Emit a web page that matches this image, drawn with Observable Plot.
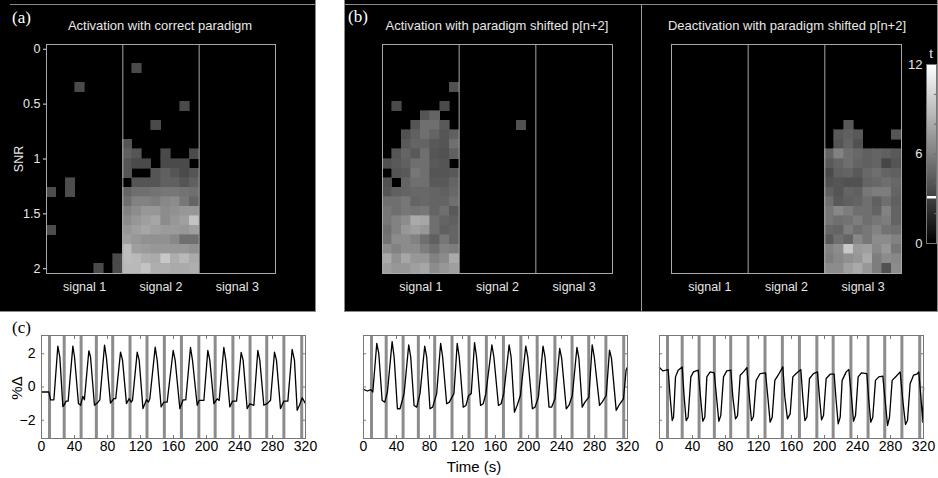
<!DOCTYPE html>
<html><head><meta charset="utf-8">
<script src="https://cdn.jsdelivr.net/npm/d3@7"></script>
<script src="https://cdn.jsdelivr.net/npm/@observablehq/plot@0.6"></script>
<style>
body{margin:0;background:#fff;}
#fig{position:relative;width:938px;height:478px;overflow:hidden;font-family:"Liberation Sans",Arial,sans-serif;background:#fff;}
.panel{position:absolute;background:#000;box-sizing:border-box;border-right:1px solid #8a8a8a;border-bottom:1px solid #8a8a8a;}
.hline{position:absolute;height:1px;background:#8a8a8a;}
.vline{position:absolute;width:1px;background:#9a9a9a;}
.lbl{position:absolute;font-family:"Liberation Serif","Times New Roman",serif;font-size:17px;line-height:1;}
.title{position:absolute;color:#e8e8e8;font-size:13px;white-space:nowrap;transform:translate(-50%,-50%);line-height:1;}
.txt{position:absolute;white-space:nowrap;line-height:1;}
.plot{position:absolute;}
.plot svg{display:block;}
</style></head><body><div id="fig"></div>
<script>
// ---------- DATA ----------
const signalLabels = ["signal 1", "signal 2", "signal 3"];
const snrTicks = [0, 0.5, 1, 1.5, 2];
const snrMax = 2;
const snrRowCount = 24;
const colsPerSignal = 8;
const tThreshold = 3.1;
const tMax = 12;
const tTicks = [0, 6, 12];

// (a) activation, correct paradigm, signal 1: sparse cells [column, row, t]
const aSignal1Cells = [[3,4,3.5],[2,14,3.6],[0,15,3.6],[2,15,3.6],[0,19,3.6],[7,22,3.5],[5,23,3.5],[7,23,3.5]];
// (a) signal 2: t per row (rows = SNR from 0 to 2), 8 columns
const aSignal2Grid = [
 [0,0,0,0,0,0,0,0],[0,0,0,0,0,0,0,0],[0,3.5,0,0,0,0,0,0],[0,0,0,0,0,0,0,0],
 [0,0,0,0,0,0,0,0],[0,0,0,0,0,0,0,0],[0,0,0,0,0,0,3.5,0],[0,0,0,0,0,0,0,0],
 [0,0,0,3.5,0,0,0,0],[0,0,0,0,0,0,0,0],[4.0,0,0,0,0,0,0,0],[4.5,4.0,0,0,3.5,0,0,3.5],
 [4.0,3.5,3.5,0,3.5,3.5,3.5,0],[4.0,0,0,4.0,4.5,4.0,3.5,4.0],[0,4.0,4.0,4.0,4.5,4.5,4.0,4.5],
 [4.7,5.2,5.2,5.4,5.6,5.6,5.4,5.2],[5.2,6.1,6.1,5.9,6.4,6.6,5.6,4.7],[6.1,6.6,7.1,7.1,6.6,6.8,7.1,7.1],
 [6.6,7.1,7.5,7.8,6.6,7.1,7.5,9.2],[7.1,7.5,7.8,7.5,7.3,7.3,7.1,7.5],[7.5,7.1,6.8,6.8,6.8,6.4,5.2,5.2],
 [8.9,7.5,7.3,7.1,7.1,7.1,7.1,6.8],[8.9,8.7,8.2,8.0,9.4,8.2,8.7,8.0],[8.7,8.7,9.2,8.2,8.2,8.0,8.0,8.2]
];
// (b) activation, shifted paradigm, signal 1
const bActSignal1Grid = [
 [0,0,0,0,0,0,0,0],[0,0,0,0,0,0,0,0],[0,0,0,0,0,0,0,0],[0,0,0,0,0,0,0,0],
 [0,0,0,0,0,0,0,3.8],[0,0,0,0,0,0,0,0],[0,3.5,0,0,0,0,3.5,0],[0,0,0,0,4.0,4.7,0,0],
 [0,0,0,4.0,5.2,5.2,4.2,0],[0,0,3.8,4.5,5.2,4.7,4.0,4.5],[0,0,4.2,4.7,4.7,4.2,4.0,5.2],
 [0,4.0,4.7,4.2,5.2,4.0,3.8,4.5],[3.8,4.2,4.5,5.2,5.2,4.2,4.0,0],[0,4.0,4.2,5.6,5.2,4.0,4.0,4.2],
 [3.8,0,4.7,5.2,5.2,4.2,4.2,4.7],[4.0,4.5,4.7,4.9,4.9,4.7,4.5,4.9],[5.2,5.2,5.6,4.7,4.9,4.7,4.7,5.2],
 [5.6,5.2,5.6,5.4,5.6,4.7,5.2,4.2],[5.6,6.1,6.6,8.0,7.8,5.2,4.7,4.5],[5.2,6.1,7.1,7.5,7.1,5.2,4.5,4.7],
 [5.4,6.6,6.6,6.1,5.2,4.5,5.6,4.7],[6.6,6.1,6.6,6.6,5.9,5.2,6.1,5.9],[8.0,6.8,7.8,7.1,7.1,6.1,6.6,8.0],
 [7.5,7.1,7.1,7.5,7.8,6.6,7.1,7.5]
];
// (b) activation, shifted paradigm, signal 2: sparse cells [column, row, t]
const bActSignal2Cells = [[6,8,3.8]];
// (b) deactivation, shifted paradigm, signal 3
const bDeactSignal3Grid = [
 [0,0,0,0,0,0,0,0],[0,0,0,0,0,0,0,0],[0,0,0,0,0,0,0,0],[0,0,0,0,0,0,0,0],
 [0,0,0,0,0,0,0,0],[0,0,0,0,0,0,0,0],[0,0,0,0,0,0,0,0],[0,0,0,0,0,0,0,0],
 [0,0,4.2,0,0,0,0,0],[0,4.2,4.5,4.2,0,0,0,4.0],[0,4.0,4.7,3.8,0,0,0,0],
 [4.7,6.1,5.2,4.9,4.5,4.7,4.5,4.2],[4.2,4.7,5.2,4.7,4.5,4.7,3.3,4.0],[3.5,4.5,4.7,4.2,4.9,5.2,4.7,4.5],
 [3.8,4.0,3.8,3.8,4.7,4.9,5.2,4.9],[4.5,4.0,4.7,4.5,5.6,5.9,5.9,4.7],[5.2,4.2,4.5,4.7,5.2,4.5,5.2,4.5],
 [5.6,6.4,5.9,5.2,5.2,4.7,6.1,4.7],[5.6,5.2,5.4,5.9,5.2,5.6,5.9,4.7],[4.9,4.7,5.9,5.2,5.6,6.1,5.4,5.2],
 [4.2,5.2,4.7,6.4,5.6,6.6,6.6,6.1],[6.1,6.6,9.4,7.3,7.5,6.4,7.1,5.6],[5.9,6.4,6.8,7.1,8.0,5.9,6.6,6.4],
 [6.6,6.6,7.5,8.0,7.1,5.9,3.8,6.6]
];

// (c) time courses: paradigm onsets (s) and [time (s), % change]
const timeTicks = [0, 40, 80, 120, 160, 200, 240, 280, 320];
const pctTicks = [-2, 0, 2];
const paradigmOnsets = [9.7, 27.5, 48, 66.5, 86.3, 107.3, 127.9, 148.9, 169.6, 190.7, 210.5, 232, 252.8, 273, 293.8, 315.4];
const courseSignal2 = [[0,-0.3],[8.9,-0.3],[11,-0.77],[15,-0.77],[19.8,2.46],[22.2,1.82],[25.9,-1.17],[27.1,-1.11],[30,-0.85],[32.3,-0.85],[38,2.46],[40,1.82],[44.8,-1.0],[47.3,-1.1],[50.1,-0.56],[52,-0.77],[57.4,2.18],[59.4,1.82],[64.2,-1.1],[67.5,-0.97],[70.7,-0.77],[76.4,2.52],[78.8,1.72],[83.6,-0.97],[87.7,-0.7],[90,-0.7],[95.8,2.1],[98.2,1.62],[103,-1.0],[106.3,-0.7],[108.7,-0.91],[110.3,-0.8],[116,2.1],[118.4,1.62],[123,-1.3],[127.3,-0.77],[129.7,-0.91],[131.3,-0.71],[137.8,2.4],[140.2,1.62],[145,-1.2],[148.3,-0.91],[152.3,-0.91],[159.6,2.2],[162,1.62],[167.7,-1.3],[171.7,-0.77],[174.9,-0.77],[180.6,2.38],[183,1.62],[188.7,-1.1],[191.1,-0.81],[196.8,-0.81],[201.6,2.2],[204,1.62],[208.9,-1.0],[212.9,-0.71],[215.4,-0.81],[221,2.38],[223.4,1.62],[228.3,-1.2],[231.5,-0.85],[236.4,-0.85],[242,2.08],[244.4,1.62],[249.3,-1.3],[252.5,-1.01],[257.4,-1.1],[262.2,2.2],[264.6,1.62],[269.5,-1.1],[273.6,-1.0],[277.6,-0.8],[282.4,2.1],[284.8,1.62],[289.7,-1.3],[293.8,-0.85],[298.6,-0.85],[303.8,2.26],[306.6,1.62],[309.9,-1.4],[312.7,-1.1],[316,-0.65],[320,-1.0]];
const courseSignal1 = [[0,-0.14],[4.8,-0.24],[8.9,-0.16],[11.3,-0.3],[16.1,2.63],[18.5,2.02],[22.6,-0.81],[25.8,-0.91],[29,-0.3],[34.7,2.73],[37.1,1.82],[41.1,-1.31],[44.3,-1.31],[49.2,-0.4],[54.8,2.53],[57.2,1.82],[61.3,-1.11],[64.5,-1.21],[68.5,-0.4],[74.2,2.46],[76.6,1.82],[80.6,-1.31],[83.8,-1.21],[88.7,-0.4],[93.5,2.63],[95.9,1.82],[100.8,-1.01],[104,-0.91],[109.6,-0.4],[113.6,2.63],[116,1.82],[120.9,-1.21],[124.2,-1.11],[127.4,-0.51],[130.6,-0.4],[134.6,2.67],[137,1.82],[141.9,-1.11],[145.1,-1.01],[148.3,-0.4],[155.6,2.53],[158,1.82],[163.6,-1.11],[166.8,-1.01],[170,-0.4],[176.5,2.53],[178.9,1.82],[183,-1.52],[186.2,-1.11],[190.2,-0.51],[196.7,2.46],[199.1,1.82],[204.7,-1.31],[207.9,-1.21],[212,-0.61],[217.6,2.46],[220,1.82],[224.9,-1.21],[228.1,-1.21],[232.1,-0.71],[237.8,2.32],[240.2,1.72],[245.8,-1.31],[249,-1.11],[253.1,-0.51],[258.7,2.38],[261.1,1.72],[265.1,-1.21],[268.4,-0.91],[273.2,-0.61],[277.2,2.53],[279.7,1.82],[286.1,-1.11],[289.3,-0.91],[294.2,-0.51],[298.2,2.22],[300.6,1.72],[306.3,-1.41],[309.5,-1.11],[315.1,-0.71],[318.3,1.01],[320,1.21]];
const courseSignal3 = [[0,1.17],[4,0.97],[8.1,1.01],[10.5,1.05],[12.9,-0.61],[15.4,-2.02],[17,-1.82],[19.4,0.61],[22.6,1.01],[27.5,1.21],[29.9,-0.61],[32.3,-2.02],[34.7,-1.82],[38,0.61],[41.2,0.91],[46.9,1.01],[50.1,-0.81],[52.5,-2.06],[54.9,-1.82],[57.4,0.61],[61.4,0.91],[66.3,0.85],[69.5,-0.81],[71.9,-2.06],[74.3,-1.72],[77.6,0.61],[81.6,0.97],[86.5,1.01],[88.9,-0.61],[92.1,-1.92],[94.6,-1.72],[97.8,0.71],[101.8,0.91],[105.9,1.17],[109.1,-0.71],[111.5,-2.02],[113.9,-1.78],[117.2,0.4],[122,0.81],[128.5,0.85],[131.7,-0.81],[134.1,-2.12],[136.6,-1.82],[139.8,0.4],[143.8,0.71],[149.5,1.21],[151.9,-0.61],[155.1,-1.92],[158.4,-1.62],[161.6,0.61],[165.6,0.81],[171.3,1.05],[173.7,-0.61],[176.2,-2.02],[178.6,-1.82],[181.8,0.51],[186.7,0.81],[191.5,0.91],[193.9,-0.61],[196.4,-1.98],[198.8,-1.72],[202,0.51],[206.9,0.77],[211.7,0.77],[214.1,-0.81],[216.6,-2.22],[219,-1.82],[221.4,0.4],[226.3,0.91],[229.5,1.05],[232.7,-0.61],[235.2,-2.06],[237.6,-1.72],[240.8,0.61],[244.8,0.85],[251.3,0.81],[253.7,-0.81],[256.1,-2.12],[258.5,-1.82],[261.8,0.4],[265.8,0.61],[270.7,0.65],[273.9,-1.01],[276.4,-2.32],[278.8,-1.82],[282,0.4],[286.9,0.65],[291.7,0.91],[294.9,-0.81],[298.2,-2.26],[300.6,-2.02],[303.8,0.2],[307.9,0.71],[311.9,0.77],[314.3,0.91],[316.8,-0.61],[319.2,-2.12],[320,0]];

// ---------- BUILD ----------
const fig = document.getElementById("fig");
function add(html) { const d = document.createElement("div"); d.innerHTML = html; const el = d.firstElementChild; fig.appendChild(el); return el; }
function place(node, left, top) { const w = document.createElement("div"); w.className = "plot"; w.style.left = left + "px"; w.style.top = top + "px"; w.appendChild(node); fig.appendChild(w); }

const rowStep = snrMax / (snrRowCount - 1);
const nCols = colsPerSignal * signalLabels.length;
const signalCenters = signalLabels.map((_, i) => i * colsPerSignal + colsPerSignal / 2);
const signalBounds = signalLabels.slice(1).map((_, i) => (i + 1) * colsPerSignal);
function cellOf(signal, col, row, t) {
  const x = signal * colsPerSignal + col, snr = row * rowStep;
  return {x1: x, x2: x + 1, y1: snr - rowStep / 2, y2: snr + rowStep / 2, t};
}
function gridCells(grid, signal) {
  const out = [];
  grid.forEach((r, ri) => r.forEach((t, ci) => { if (t > 0) out.push(cellOf(signal, ci, ri, t)); }));
  return out;
}
function sparseCells(list, signal) { return list.map(([c, r, t]) => cellOf(signal, c, r, t)); }

const colorScale = {type: "linear", domain: [0, tMax], range: ["#000000", "#ffffff"]};
const darkStyle = {background: "transparent", color: "#e6e6e6", fontSize: "12.5px", fontFamily: "Liberation Sans, Arial, sans-serif", overflow: "visible"};

function heatmap(cells, {width, height, ml, mr, mt, mb, showY}) {
  return Plot.plot({
    width, height, marginLeft: ml, marginRight: mr, marginTop: mt, marginBottom: mb,
    style: darkStyle,
    x: {domain: [0, nCols], ticks: signalCenters, tickFormat: d => signalLabels[signalCenters.indexOf(d)], tickSize: 0, tickPadding: 9, label: null},
    y: showY
      ? {domain: [-rowStep / 2, snrMax + rowStep / 2], reverse: true, ticks: snrTicks, tickFormat: d => String(d), tickSize: 3, tickPadding: 3, label: null}
      : {domain: [-rowStep / 2, snrMax + rowStep / 2], reverse: true, axis: null},
    color: colorScale,
    marks: [
      Plot.rect(cells, {x1: "x1", x2: "x2", y1: "y1", y2: "y2", fill: "t", stroke: "t", strokeWidth: 0.6, shapeRendering: "crispEdges"}),
      Plot.ruleX(signalBounds, {stroke: "#a8a8a8"}),
      Plot.frame({stroke: "#a8a8a8"})
    ]
  });
}

// black panels
add(`<div class="panel" style="left:0;top:0;width:316px;height:312px"></div>`);
add(`<div class="panel" style="left:344px;top:0;width:594px;height:312px;border-left:1px solid #8a8a8a"></div>`);
add(`<div class="hline" style="left:10px;top:4px;width:305px"></div>`);
add(`<div class="hline" style="left:344px;top:4px;width:594px"></div>`);
add(`<div class="vline" style="left:641px;top:4px;height:307px"></div>`);

place(heatmap([...sparseCells(aSignal1Cells, 0), ...gridCells(aSignal2Grid, 1)],
  {width: 315, height: 311, ml: 46, mr: 40, mt: 44, mb: 38, showY: true}), 0, 0);
place(heatmap([...gridCells(bActSignal1Grid, 0), ...sparseCells(bActSignal2Cells, 1)],
  {width: 297, height: 311, ml: 38, mr: 29, mt: 44, mb: 38, showY: false}), 344, 0);
place(heatmap(gridCells(bDeactSignal3Grid, 2),
  {width: 296, height: 311, ml: 29, mr: 37, mt: 44, mb: 38, showY: false}), 642, 0);

// colour bar
const ramp = d3.range(0, tMax, 0.1).map(v => ({v0: v, v1: v + 0.1}));
place(Plot.plot({
  width: 42, height: 212, marginLeft: 30, marginRight: 2, marginTop: 16, marginBottom: 17,
  style: {...darkStyle, fontSize: "13px"},
  x: {domain: [0, 1], axis: null},
  y: {domain: [0, tMax], axis: null},
  color: colorScale,
  marks: [
    Plot.rect(ramp, {x1: 0, x2: 1, y1: "v0", y2: "v1", fill: d => d.v0 + 0.05, stroke: d => d.v0 + 0.05, strokeWidth: 0.6, shapeRendering: "crispEdges"}),
    Plot.ruleY([tThreshold], {stroke: "#ffffff", strokeWidth: 2.5}),
    Plot.axisY(d3.range(0, tMax + 1, 2), {anchor: "right", tickSize: -3, tickFormat: () => "", stroke: "#666", label: null}),
    Plot.axisY(tTicks, {anchor: "left", tickSize: 0, tickPadding: 4, label: null}),
    Plot.frame({stroke: "#777"})
  ]
}), 896, 48);

// titles and labels on the black panels
add(`<div class="lbl" style="left:12px;top:9px;color:#fff">(a)</div>`);
add(`<div class="lbl" style="left:348px;top:8px;color:#fff">(b)</div>`);
add(`<div class="title" style="left:160px;top:25px">Activation with correct paradigm</div>`);
add(`<div class="title" style="left:497px;top:25px">Activation with paradigm shifted p[n+2]</div>`);
add(`<div class="title" style="left:787px;top:25px">Deactivation with paradigm shifted p[n+2]</div>`);
add(`<div class="txt" style="left:19px;top:159px;color:#e6e6e6;font-size:12.5px;transform:translate(-50%,-50%) rotate(-90deg)">SNR</div>`);
add(`<div class="txt" style="left:931px;top:53px;color:#e6e6e6;font-size:13px;transform:translate(-50%,-50%)">t</div>`);

// time courses
const lightStyle = {background: "#fff", color: "#000", fontSize: "14px", fontFamily: "Liberation Sans, Arial, sans-serif", overflow: "visible"};
function course(data, {width, ml, mr, showY}) {
  return Plot.plot({
    width, height: 166, marginLeft: ml, marginRight: mr, marginTop: 23, marginBottom: 40,
    style: lightStyle,
    x: {domain: [0, 320]},
    y: {domain: [-3.1, 3.1]},
    marks: [
      Plot.ruleX(paradigmOnsets, {stroke: "#8c8c8c", strokeWidth: 3}),
      Plot.line(data, {x: d => d[0], y: d => d[1], stroke: "#000", strokeWidth: 1.3}),
      Plot.frame({stroke: "#777"}),
      Plot.axisX(timeTicks, {anchor: "bottom", tickSize: 0, tickPadding: 3, label: null}),
      Plot.axisX(timeTicks, {anchor: "bottom", tickSize: -3, tickFormat: () => "", stroke: "#777", label: null}),
      Plot.axisX(timeTicks, {anchor: "top", tickSize: -3, tickFormat: () => "", stroke: "#777", label: null}),
      showY ? Plot.axisY(pctTicks, {anchor: "left", tickSize: 0, tickPadding: 6, label: null}) : null,
      Plot.axisY(pctTicks, {anchor: "left", tickSize: -3, tickFormat: () => "", stroke: "#777", label: null}),
      Plot.axisY(pctTicks, {anchor: "right", tickSize: -3, tickFormat: () => "", stroke: "#777", label: null})
    ]
  });
}
place(course(courseSignal2, {width: 340, ml: 41, mr: 35, showY: true}), 0, 312);
place(course(courseSignal1, {width: 300, ml: 23, mr: 13, showY: false}), 340, 312);
place(course(courseSignal3, {width: 298, ml: 19, mr: 15, showY: false}), 640, 312);

add(`<div class="lbl" style="left:12px;top:319px;color:#000">(c)</div>`);
add(`<div class="txt" style="left:16px;top:388px;color:#000;font-size:15px;transform:translate(-50%,-50%) rotate(-90deg)">%Δ</div>`);
add(`<div class="txt" style="left:474px;top:466px;color:#000;font-size:15px;transform:translate(-50%,-50%)">Time (s)</div>`);
</script></body></html>
